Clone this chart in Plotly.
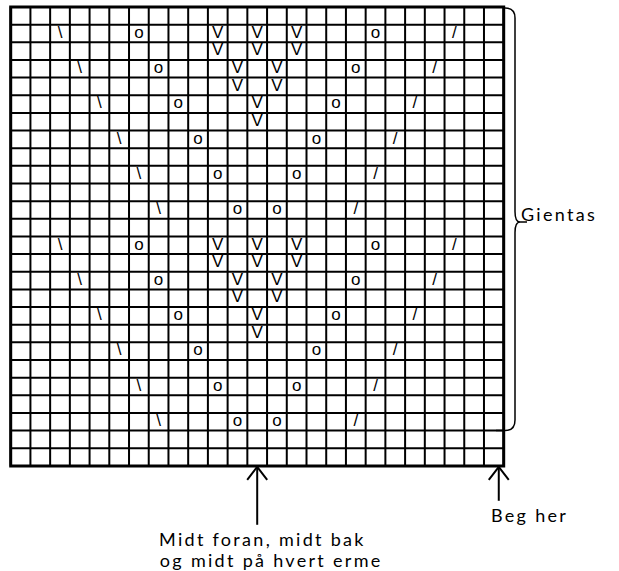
import plotly.graph_objects as go

# ---- chart data -------------------------------------------------------
N_COLS = 25
N_ROWS = 26

sym_rows = [1, 1, 1, 1, 1, 1, 1,
            2, 2, 2,
            3, 3, 3, 3, 3, 3,
            4, 4,
            5, 5, 5, 5, 5,
            6,
            7, 7, 7, 7,
            9, 9, 9, 9,
            11, 11, 11, 11,
            13, 13, 13, 13, 13, 13, 13,
            14, 14, 14,
            15, 15, 15, 15, 15, 15,
            16, 16,
            17, 17, 17, 17, 17,
            18,
            19, 19, 19, 19,
            21, 21, 21, 21,
            23, 23, 23, 23]
sym_cols = [2, 6, 10, 12, 14, 18, 22,
            10, 12, 14,
            3, 7, 11, 13, 17, 21,
            11, 13,
            4, 8, 12, 16, 20,
            12,
            5, 9, 15, 19,
            6, 10, 14, 18,
            7, 11, 13, 17,
            2, 6, 10, 12, 14, 18, 22,
            10, 12, 14,
            3, 7, 11, 13, 17, 21,
            11, 13,
            4, 8, 12, 16, 20,
            12,
            5, 9, 15, 19,
            6, 10, 14, 18,
            7, 11, 13, 17]
sym_chars = ["\\", "o", "V", "V", "V", "o", "/",
             "V", "V", "V",
             "\\", "o", "V", "V", "o", "/",
             "V", "V",
             "\\", "o", "V", "o", "/",
             "V",
             "\\", "o", "o", "/",
             "\\", "o", "o", "/",
             "\\", "o", "o", "/",
             "\\", "o", "V", "V", "V", "o", "/",
             "V", "V", "V",
             "\\", "o", "V", "V", "o", "/",
             "V", "V",
             "\\", "o", "V", "o", "/",
             "V",
             "\\", "o", "o", "/",
             "\\", "o", "o", "/",
             "\\", "o", "o", "/"]

CENTER_COL = 12
START_COL = 24
REPEAT_FIRST_ROW = 0
REPEAT_LAST_ROW = 23

label_center = ["Midt foran, midt bak", "og midt på hvert erme"]
label_start = "Beg her"
label_repeat = "Gientas"

# ---- geometry (pixel placement of the grid) -----------------------------
W, H = 619, 571
X0, CW = 10.7, 19.72   # left edge px, cell width px
Y0, CH = 7.0, 17.65    # top edge px, cell height px


def dx(p):  # pixel -> column units
    return (p - X0) / CW


def dy(p):  # pixel -> row units
    return (p - Y0) / CH


fig = go.Figure()

# grid lines
gx, gy = [], []
for c in range(N_COLS + 1):
    gx += [c, c, None]
    gy += [0, N_ROWS, None]
for r in range(N_ROWS + 1):
    gx += [0, N_COLS, None]
    gy += [r, r, None]
fig.add_trace(go.Scatter(x=gx, y=gy, mode="lines",
                         line=dict(color="black", width=2),
                         hoverinfo="skip", showlegend=False))

# outer border
fig.add_shape(type="rect", x0=0, x1=N_COLS, y0=0, y1=N_ROWS,
              line=dict(color="black", width=3))

# stitch symbols
fig.add_trace(go.Scatter(x=[c + 0.5 for c in sym_cols],
                         y=[r + 0.5 for r in sym_rows],
                         mode="text", text=sym_chars,
                         textposition="middle center",
                         textfont=dict(family="Liberation Sans", size=17, color="black"),
                         hoverinfo="skip", showlegend=False))


# arrows
def arrow(col_x, tip_y, length_px):
    ax = col_x
    tip = tip_y
    bottom = tip + length_px / CH
    wing_dx = 10 / CW
    wing_dy = 13 / CH
    fig.add_trace(go.Scatter(
        x=[ax, ax, None, ax - wing_dx, ax, ax + wing_dx],
        y=[tip, bottom, None, tip + wing_dy, tip, tip + wing_dy],
        mode="lines", line=dict(color="black", width=2),
        hoverinfo="skip", showlegend=False))


arrow(CENTER_COL + 0.5, N_ROWS + 0.05, 58)
arrow(START_COL + 0.75, N_ROWS + 0.05, 34)

# repeat bracket
ytop = REPEAT_FIRST_ROW
ybot = REPEAT_LAST_ROW + 1
bx = dx(515)
ymid = dy(222)
path = (f"M {dx(505)},{dy(8)} "
        f"Q {bx},{dy(8)} {bx},{dy(18)} "
        f"L {bx},{ymid - 0.6} "
        f"Q {bx},{ymid} {dx(520)},{ymid} "
        f"L {dx(527)},{ymid} "
        f"M {dx(520)},{ymid} "
        f"Q {bx},{ymid} {bx},{ymid + 0.6} "
        f"L {bx},{ybot - 0.6} "
        f"Q {bx},{ybot} {dx(505)},{ybot} "
        f"L {dx(496)},{ybot}")
fig.add_shape(type="path", path=path, line=dict(color="black", width=1.5))

FONT = dict(family="Lato", size=18, color="black")
fig.add_annotation(x=dx(559), y=dy(214), text=label_repeat, showarrow=False,
                   xanchor="center", yanchor="middle", font=FONT)
fig.add_annotation(x=dx(263), y=dy(539), text=label_center[0], showarrow=False,
                   xanchor="center", yanchor="middle", font=FONT)
fig.add_annotation(x=dx(271), y=dy(560), text=label_center[1], showarrow=False,
                   xanchor="center", yanchor="middle", font=FONT)
fig.add_annotation(x=dx(530), y=dy(515), text=label_start, showarrow=False,
                   xanchor="center", yanchor="middle", font=FONT)

fig.update_layout(
    width=W, height=H,
    margin=dict(l=0, r=0, t=0, b=0),
    paper_bgcolor="white", plot_bgcolor="white",
    xaxis=dict(range=[dx(0), dx(W)], visible=False, fixedrange=True),
    yaxis=dict(range=[dy(H), dy(0)], visible=False, fixedrange=True),
    showlegend=False,
)

POST = ("document.body.style.margin='0';"
        "document.documentElement.style.overflow='hidden';"
        "document.querySelectorAll('.annotation-text').forEach(function(e){"
        "e.style.letterSpacing='2.3px';});")

fig.write_html("out.html", post_script=POST,
               config={"displayModeBar": False, "staticPlot": True})
